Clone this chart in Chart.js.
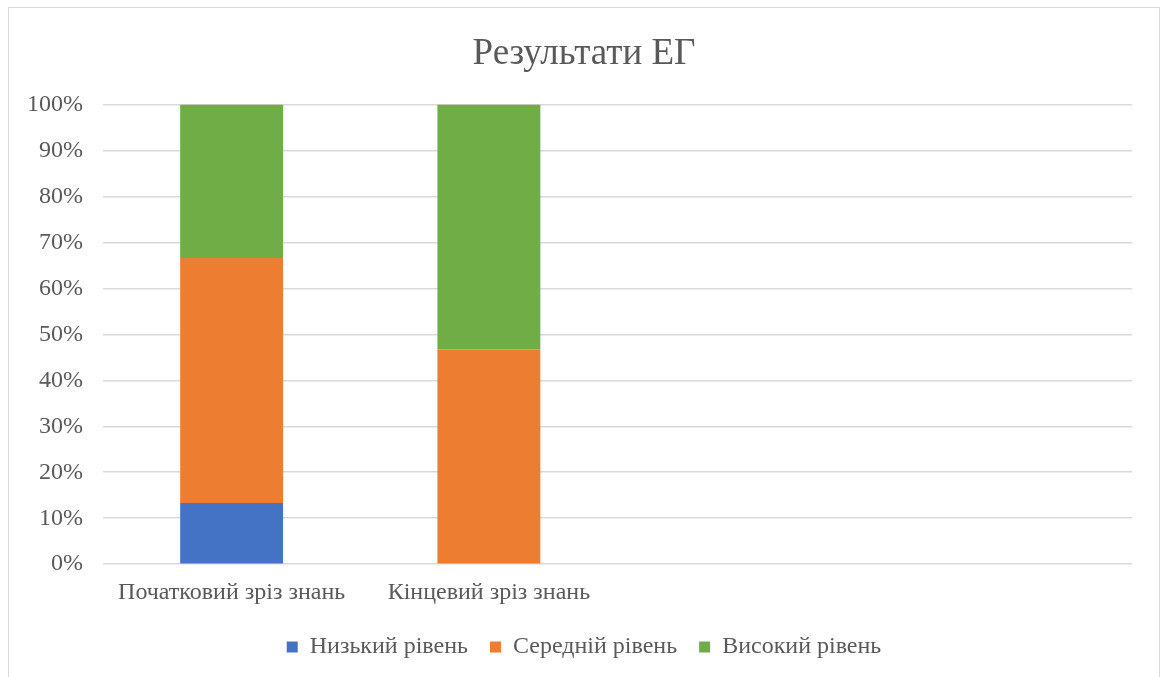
<!DOCTYPE html>
<html>
<head>
<meta charset="utf-8">
<script src="https://cdn.jsdelivr.net/npm/chart.js@4/dist/chart.umd.min.js"></script>
<style>
  body { margin: 0; background: #fff; }
  #frame {
    position: absolute; left: 8px; top: 7px;
    width: 1150px; height: 680px;
    border: 1px solid #d9d9d9; background: #fff;
  }
  #wrap { position: absolute; left: 0; top: 0; width: 1150px; height: 669px; }
</style>
</head>
<body>
<div id="frame"><div id="wrap"><canvas id="chart"></canvas></div></div>
<script>
// categories (the last two are empty in the original)
const categories = ['Початковий зріз знань', 'Кінцевий зріз знань', '', ''];
const lowLevel = [13.3, 0, null, null];
const midLevel = [53.3, 46.7, null, null];
const highLevel = [33.4, 53.3, null, null];
const seriesNames = ['Низький рівень', 'Середній рівень', 'Високий рівень'];
const yTicks = [0, 10, 20, 30, 40, 50, 60, 70, 80, 90, 100];

const font = 'Liberation Serif';
const textColor = '#595959';

const ctx = document.getElementById('chart').getContext('2d');
new Chart(ctx, {
  type: 'bar',
  data: {
    labels: categories,
    datasets: [
      { label: seriesNames[0], data: lowLevel, backgroundColor: '#4472c4' },
      { label: seriesNames[1], data: midLevel, backgroundColor: '#ed7d31' },
      { label: seriesNames[2], data: highLevel, backgroundColor: '#70ad47' }
    ]
  },
  options: {
    responsive: true,
    maintainAspectRatio: false,
    animation: false,
    layout: { padding: { left: 0, right: 0, top: 16, bottom: 8 } },
    datasets: { bar: { categoryPercentage: 1, barPercentage: 0.4 } },
    plugins: {
      title: {
        display: true,
        text: 'Результати ЕГ',
        color: textColor,
        font: { family: font, size: 37, weight: 'normal' },
        padding: { top: 8, bottom: 28 }
      },
      legend: {
        position: 'bottom',
        labels: {
          color: textColor,
          font: { family: font, size: 24 },
          boxWidth: 11, boxHeight: 11,
          padding: 22
        }
      },
      tooltip: { enabled: false }
    },
    scales: {
      x: {
        stacked: true,
        grid: { display: false },
        border: { display: false },
        ticks: {
          color: textColor,
          font: { family: font, size: 24 },
          maxRotation: 0,
          padding: 6
        }
      },
      y: {
        stacked: true,
        min: 0, max: 100,
        afterBuildTicks: (axis) => { axis.ticks = yTicks.map(v => ({ value: v })); },
        afterFit: (axis) => { axis.width = 94; },
        grid: { color: '#d9d9d9', lineWidth: 1.5, drawTicks: false },
        border: { display: false },
        ticks: {
          color: textColor,
          font: { family: font, size: 24 },
          padding: 20,
          callback: v => v + '%'
        }
      },
      // empty right-hand axis that only reserves the right margin of the plot
      yRight: {
        position: 'right',
        min: 0, max: 100,
        afterFit: (axis) => { axis.width = 27; },
        grid: { display: false },
        border: { display: false },
        ticks: { display: false }
      }
    }
  }
});
</script>
</body>
</html>
